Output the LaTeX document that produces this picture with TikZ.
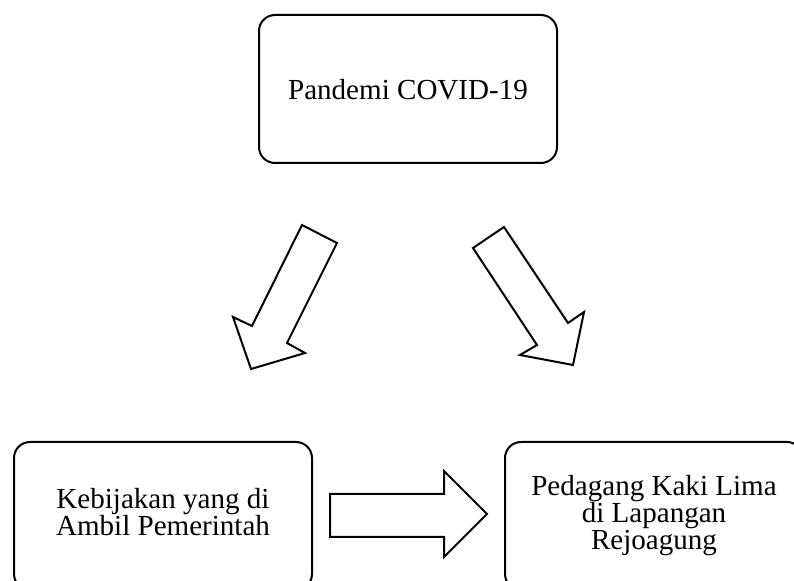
\documentclass[tikz,border=0pt]{standalone}
\usepackage{fontspec}
\setmainfont{Liberation Serif}
\begin{document}
\begin{tikzpicture}[x=0.75pt,y=-0.75pt,
  box/.style={draw=black, line width=1.5pt, rounded corners=12pt, fill=white,
    minimum width=223.5pt, minimum height=111pt, inner sep=0pt},
  txt/.style={align=center, inner sep=0pt, font=\fontsize{21.8pt}{20.25pt}\selectfont},
  blockarrow/.style={draw=black, line width=1.5pt, line join=miter, fill=white}]
\useasboundingbox (0,0) rectangle (794,581);
\clip (0,0) rectangle (794,581);
% boxes
\node[box] (top) at (408,89) {};
\node[txt] (toptxt) at (408,89.5) {Pandemi COVID-19};
\node[box] (left) at (163,516) {};
\node[txt] (lefttxt) at (163,512) {Kebijakan yang di\\Ambil Pemerintah};
\node[box] (right) at (654,516) {};
\node[txt] (righttxt) at (654,516) {Pedagang Kaki Lima\\di Lapangan\\Rejoagung};
% block arrows
\draw[blockarrow] (302,225) -- (337,243) -- (287,343) -- (305,353) -- (251,369) -- (233,317) -- (252,326) -- cycle;
\draw[blockarrow] (473,248) -- (504,227) -- (568,323) -- (584,312) -- (573,365) -- (520,355) -- (537,345) -- cycle;
\draw[blockarrow] (330,494) -- (444,494) -- (444,471) -- (487,514) -- (444,557) -- (444,537) -- (330,537) -- cycle;
\end{tikzpicture}
\end{document}
